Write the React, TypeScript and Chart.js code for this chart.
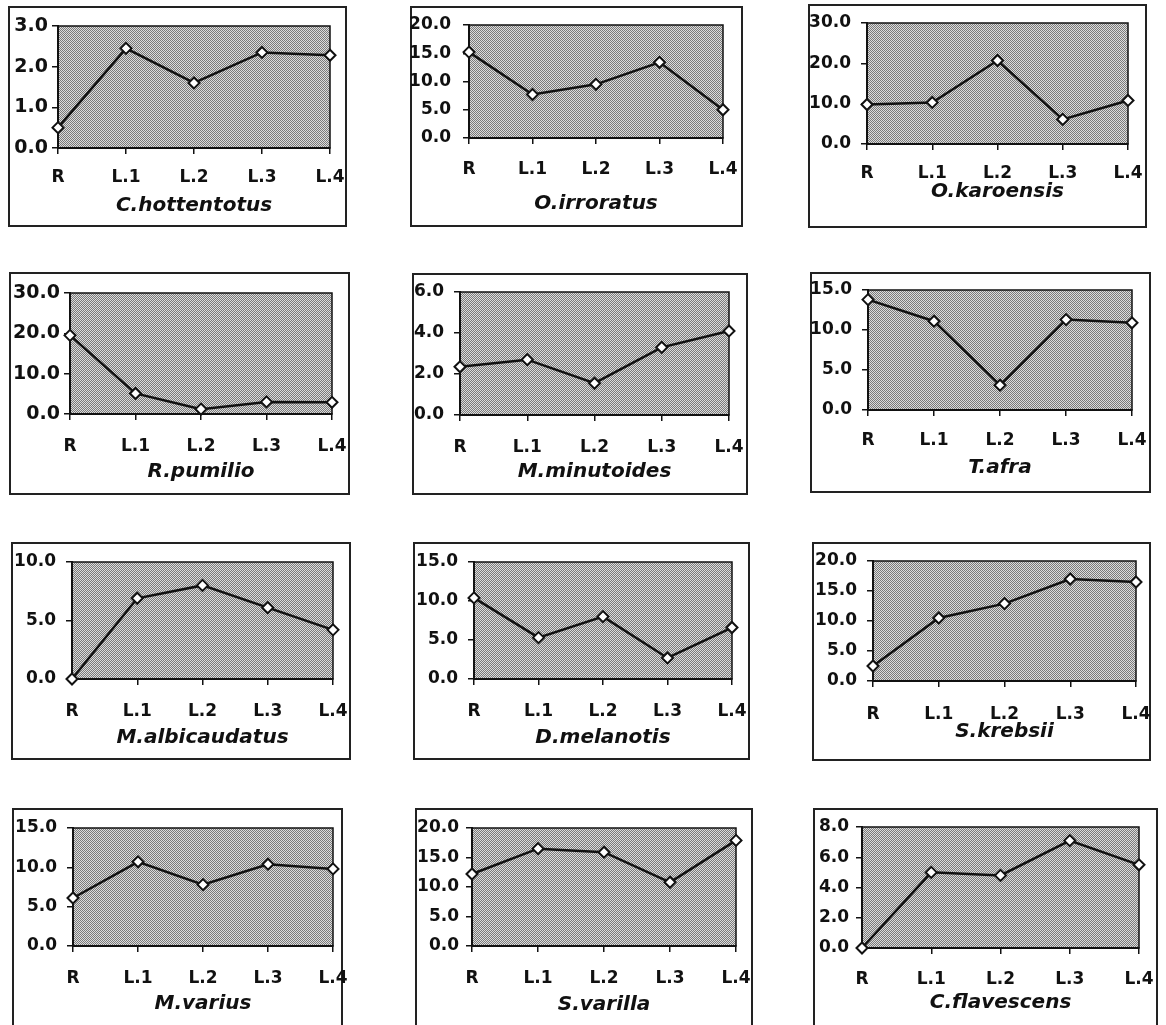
import React, { useEffect, useRef } from 'react';
import { Chart, registerables } from 'chart.js';

Chart.register(...registerables);

// ---------- data ----------
const categories = ['R', 'L.1', 'L.2', 'L.3', 'L.4'];
const speciesNames = [
  'C.hottentotus', 'O.irroratus', 'O.karoensis',
  'R.pumilio', 'M.minutoides', 'T.afra',
  'M.albicaudatus', 'D.melanotis', 'S.krebsii',
  'M.varius', 'S.varilla', 'C.flavescens',
];
const cHottentotus = [0.5, 2.45, 1.6, 2.35, 2.28];
const oIrroratus = [15.2, 7.7, 9.5, 13.4, 5.0];
const oKaroensis = [9.8, 10.3, 20.7, 6.1, 10.8];
const rPumilio = [19.5, 5.1, 1.2, 3.0, 2.9];
const mMinutoides = [2.35, 2.7, 1.55, 3.3, 4.1];
const tAfra = [13.8, 11.1, 3.1, 11.3, 10.9];
const mAlbicaudatus = [0, 6.9, 8.0, 6.1, 4.2];
const dMelanotis = [10.4, 5.3, 8.0, 2.7, 6.6];
const sKrebsii = [2.5, 10.5, 12.9, 17.0, 16.5];
const mVarius = [6.1, 10.7, 7.8, 10.4, 9.8];
const sVarilla = [12.2, 16.5, 15.9, 10.8, 17.9];
const cFlavescens = [0, 5.0, 4.8, 7.1, 5.5];
const seriesValues = [
  cHottentotus, oIrroratus, oKaroensis,
  rPumilio, mMinutoides, tAfra,
  mAlbicaudatus, dMelanotis, sKrebsii,
  mVarius, sVarilla, cFlavescens,
];
const yMaxValues = [3, 20, 30, 30, 6, 15, 10, 15, 20, 15, 20, 8];
const yStepValues = [1, 5, 10, 10, 2, 5, 5, 5, 5, 5, 5, 2];

// ---------- layout (page pixels) ----------
type Layout = {
  bx: number; by: number; bw: number; bh: number;
  pl: number; pt: number; pr: number; pb: number;
  xLab: number; title: number; yGap: number; yFont: number;
};
const LAYOUT: Layout[] = [
  { bx: 8, by: 6, bw: 339, bh: 221, pl: 58, pt: 26, pr: 330, pb: 148, xLab: 30, title: 58, yGap: 10, yFont: 19 },
  { bx: 410, by: 6, bw: 333, bh: 221, pl: 469, pt: 25, pr: 723, pb: 138, xLab: 31.5, title: 66, yGap: 18, yFont: 17 },
  { bx: 808, by: 4, bw: 339, bh: 224, pl: 867, pt: 23, pr: 1128, pb: 144, xLab: 30, title: 48, yGap: 16, yFont: 17 },
  { bx: 9, by: 272, bw: 341, bh: 223, pl: 70, pt: 293, pr: 332, pb: 414, xLab: 32.5, title: 58, yGap: 10, yFont: 19 },
  { bx: 412, by: 273, bw: 336, bh: 222, pl: 460, pt: 292, pr: 729, pb: 415, xLab: 32.5, title: 57, yGap: 16, yFont: 17 },
  { bx: 810, by: 272, bw: 341, bh: 221, pl: 868, pt: 290, pr: 1132, pb: 410, xLab: 30.5, title: 58, yGap: 16, yFont: 17 },
  { bx: 11, by: 542, bw: 340, bh: 218, pl: 72, pt: 562, pr: 333, pb: 679, xLab: 32.5, title: 59, yGap: 16, yFont: 17 },
  { bx: 413, by: 542, bw: 337, bh: 218, pl: 474, pt: 562, pr: 732, pb: 679, xLab: 32.5, title: 59, yGap: 16, yFont: 17 },
  { bx: 812, by: 542, bw: 339, bh: 219, pl: 873, pt: 561, pr: 1136, pb: 681, xLab: 34, title: 51, yGap: 16, yFont: 17 },
  { bx: 12, by: 808, bw: 331, bh: 230, pl: 73, pt: 828, pr: 333, pb: 946, xLab: 32.5, title: 57.5, yGap: 16, yFont: 17 },
  { bx: 415, by: 808, bw: 338, bh: 230, pl: 472, pt: 828, pr: 736, pb: 946, xLab: 32.5, title: 59, yGap: 13, yFont: 17 },
  { bx: 813, by: 808, bw: 345, bh: 230, pl: 862, pt: 827, pr: 1139, pb: 948, xLab: 31.5, title: 55, yGap: 13, yFont: 17 },
];

const M = 20;
const FONT = '"DejaVu Sans", "Liberation Sans", sans-serif';
const INK = '#111';
const TICK_LEN = 6;
const TICK_SIZE = 17;
const TITLE_SIZE = 20;

function makePattern(ctx: CanvasRenderingContext2D) {
  const c = document.createElement('canvas');
  c.width = 2;
  c.height = 2;
  const g = c.getContext('2d')!;
  g.fillStyle = '#dcdcdc';
  g.fillRect(0, 0, 2, 2);
  g.fillStyle = '#7a7a7a';
  g.fillRect(0, 0, 1, 1);
  g.fillRect(1, 1, 1, 1);
  return ctx.createPattern(c, 'repeat');
}

function Panel({ idx }: { idx: number }) {
  const ref = useRef<HTMLCanvasElement>(null);
  const L = LAYOUT[idx];
  const cx = L.bx - M;
  const cy = L.by - M;
  const cw = L.bw + 2 * M;
  const ch = L.bh + 2 * M;

  useEffect(() => {
    const canvas = ref.current!;
    const pattern = makePattern(canvas.getContext('2d')!);
    const titleLH = TITLE_SIZE * 1.2;
    const xH = L.title + titleLH / 2;
    const yW = L.pl - cx;
    const padTop = L.pt - cy;
    const padRight = cx + cw - L.pr;
    const padBottom = ch - (L.pb - cy) - xH;
    const xPad = L.xLab - TICK_LEN - (TICK_SIZE * 1.2) / 2;

    const frame = {
      id: 'panelFrame',
      beforeDraw(chart: any) {
        const ctx = chart.ctx as CanvasRenderingContext2D;
        const a = chart.chartArea;
        ctx.save();
        ctx.strokeStyle = '#222';
        ctx.lineWidth = 2;
        ctx.strokeRect(M + 1, M + 1, L.bw - 2, L.bh - 2);
        if (pattern) ctx.fillStyle = pattern;
        ctx.fillRect(a.left, a.top, a.right - a.left, a.bottom - a.top);
        ctx.strokeStyle = INK;
        ctx.lineWidth = 1.5;
        ctx.strokeRect(a.left, a.top, a.right - a.left, a.bottom - a.top);
        ctx.restore();
      },
    };

    const chart = new Chart(canvas, {
      type: 'line',
      data: {
        labels: categories,
        datasets: [
          {
            data: seriesValues[idx],
            borderColor: INK,
            borderWidth: 2.5,
            fill: false,
            tension: 0,
            pointStyle: 'rectRot',
            pointRadius: 5.5,
            pointBackgroundColor: '#ffffff',
            pointBorderColor: INK,
            pointBorderWidth: 2,
            clip: false as any,
          },
        ],
      },
      options: {
        responsive: false,
        animation: false,
        devicePixelRatio: 1,
        layout: { padding: { left: 0, top: padTop, right: padRight, bottom: padBottom } },
        plugins: {
          legend: { display: false },
          tooltip: { enabled: false },
        },
        scales: {
          x: {
            type: 'category',
            offset: false,
            grid: {
              display: true,
              drawOnChartArea: false,
              drawTicks: true,
              tickLength: TICK_LEN,
              color: INK,
              lineWidth: 1.5,
            },
            border: { display: true, color: INK, width: 2 },
            ticks: {
              autoSkip: false,
              maxRotation: 0,
              minRotation: 0,
              padding: xPad,
              color: INK,
              font: { family: FONT, size: TICK_SIZE, weight: 'bold' },
            },
            title: {
              display: true,
              text: speciesNames[idx],
              color: INK,
              padding: 0,
              font: { family: FONT, size: TITLE_SIZE, weight: 'bold', style: 'italic' },
            },
            afterFit(s: any) {
              s.height = xH;
              s.paddingLeft = 0;
              s.paddingRight = 0;
            },
          },
          y: {
            min: 0,
            max: yMaxValues[idx],
            grid: {
              display: true,
              drawOnChartArea: false,
              drawTicks: true,
              tickLength: TICK_LEN,
              color: INK,
              lineWidth: 1.5,
            },
            border: { display: true, color: INK, width: 2 },
            ticks: {
              stepSize: yStepValues[idx],
              padding: L.yGap - TICK_LEN,
              color: INK,
              font: { family: FONT, size: L.yFont, weight: 'bold' },
              callback: (v: any) => Number(v).toFixed(1),
            },
            afterFit(s: any) {
              s.width = yW;
              s.paddingTop = 0;
              s.paddingBottom = 0;
            },
          },
        },
      } as any,
      plugins: [frame],
    });
    return () => chart.destroy();
  }, [idx]);

  return (
    <canvas
      ref={ref}
      width={cw}
      height={ch}
      style={{ position: 'absolute', left: cx, top: cy, width: cw, height: ch }}
    />
  );
}

export default function App() {
  return (
    <div
      style={{
        position: 'absolute',
        left: 0,
        top: 0,
        width: 1166,
        height: 1025,
        overflow: 'hidden',
        background: '#ffffff',
      }}
    >
      {speciesNames.map((_, i) => (
        <Panel key={i} idx={i} />
      ))}
    </div>
  );
}
